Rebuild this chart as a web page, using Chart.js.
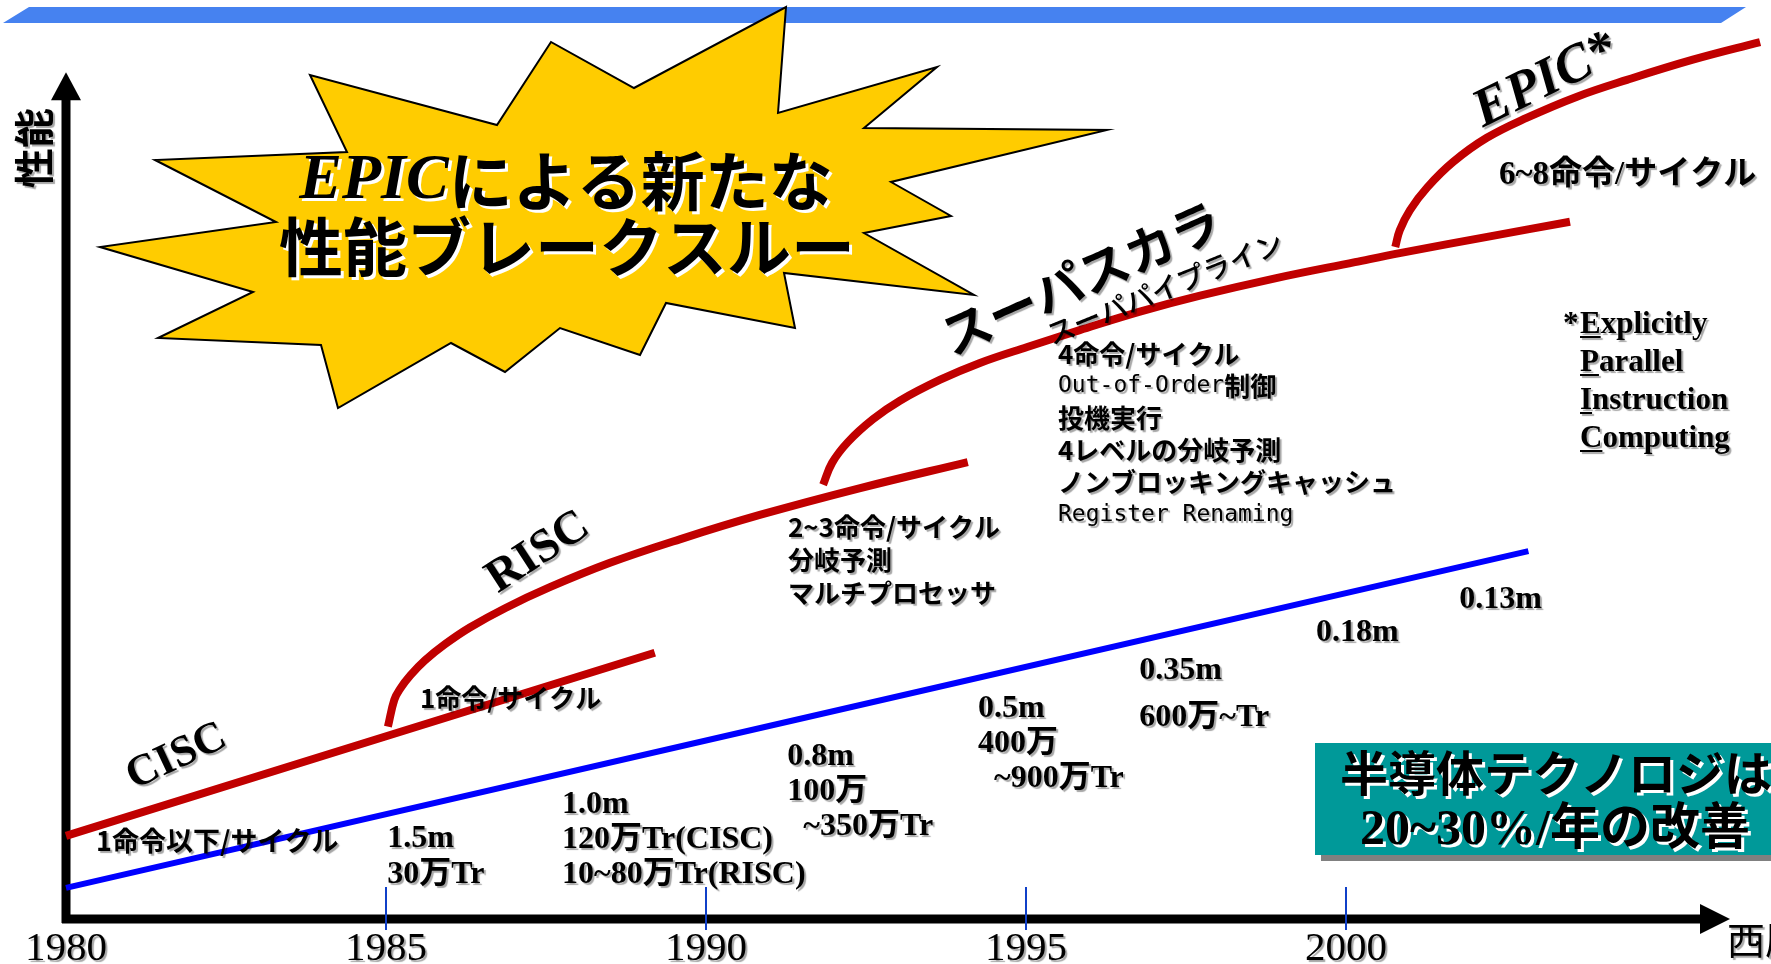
<!DOCTYPE html>
<html>
<head>
<meta charset="utf-8">
<script src="https://cdn.jsdelivr.net/npm/chart.js@4"></script>
<style>
  html, body { margin: 0; padding: 0; background: #fff; overflow: hidden; }
</style>
</head>
<body>
<canvas id="epicChart" width="1771" height="964"></canvas>
<script>
// --- データ (年, 性能: 任意単位) ---
const yearTicks = [1980, 1985, 1990, 1995, 2000];

const ciscYear = [1980.0, 1989.2];
const ciscPerf = [9.9, 31.7];

const riscYear = [1985.03, 1985.13, 1985.22, 1985.38, 1985.61, 1985.92, 1986.31, 1986.86, 1987.56, 1988.5, 1989.59, 1990.84, 1992.41, 1994.09];
const riscPerf = [22.9, 26.1, 27.4, 29.0, 30.8, 32.7, 34.7, 37.0, 39.5, 42.4, 45.2, 48.1, 51.3, 54.4];

const superYear = [1991.83, 1991.97, 1992.22, 1992.61, 1993.03, 1993.66, 1994.28, 1995.02, 1995.84, 1996.78, 1997.72, 1998.91, 2000.14, 2000.86, 2002.27, 2003.5];
const superPerf = [51.7, 54.3, 56.8, 59.5, 61.7, 64.2, 66.2, 68.1, 70.1, 72.3, 74.2, 76.3, 78.2, 79.3, 81.3, 83.0];

const epicYear = [2000.77, 2000.84, 2001.0, 2001.27, 2001.67, 2002.2, 2002.83, 2003.61, 2004.39, 2005.42, 2006.47];
const epicPerf = [80.0, 82.0, 84.4, 87.1, 90.1, 93.0, 95.4, 97.9, 99.9, 102.3, 104.4];

const techYear = [1980.0, 2002.85];
const techPerf = [3.7, 43.8];

// --- テキスト ---
const ciscCpi = ['1命令以下/サイクル'];
const riscCpi = ['1命令/サイクル'];
const riscNotes = ['2~3命令/サイクル', '分岐予測', 'マルチプロセッサ'];
const superNotes = ['4命令/サイクル', 'Out-of-Order|制御', '投機実行', '4レベルの分岐予測', 'ノンブロッキングキャッシュ', 'Register Renaming'];
const epicNotes = ['6~8命令/サイクル'];
const process85 = ['1.5m', '30万Tr'];
const process88 = ['1.0m', '120万Tr(CISC)', '10~80万Tr(RISC)'];
const process91 = ['0.8m', '100万', '  ~350万Tr'];
const process94 = ['0.5m', '400万', '  ~900万Tr'];
const process97 = ['0.35m', '600万~Tr'];
const process99 = ['0.18m'];
const process02 = ['0.13m'];
const epicWords = ['Explicitly', 'Parallel', 'Instruction', 'Computing'];

const RED = '#C00000';
const BLUE = '#0000FF';
const GOTHIC = '"Noto Sans CJK JP"';
const B26 = 'bold 26px ' + GOTHIC;
const MONO = '23px "DejaVu Sans Mono"';
const SERIF_B = 'bold 32px "Liberation Serif", ' + GOTHIC;

// 注記の配置 (データ座標)
const notes = [
  { at: [1980.47, 9.3], gap: 0, font: 'bold 27px ' + GOTHIC, lines: ciscCpi },
  { at: [1985.53, 26.3], gap: 0, font: B26, lines: riscCpi },
  { at: [1991.28, 46.7], gap: 33, font: B26, lines: riscNotes },
  { at: [1995.5, 67.3], gap: 32.2, font: B26, lines: superNotes, mono: [1, 5] },
  { at: [2002.39, 88.5], gap: 0, font: 'bold 33px "Liberation Serif", ' + GOTHIC, lines: epicNotes },
  { at: [1985.02, 9.5], gap: 36, font: SERIF_B, lines: process85 },
  { at: [1987.75, 13.6], gap: 35, font: SERIF_B, lines: process88 },
  { at: [1991.27, 19.3], gap: 35, font: SERIF_B, lines: process91 },
  { at: [1994.25, 25.0], gap: 35, font: SERIF_B, lines: process94 },
  { at: [1996.77, 29.5], gap: 47, font: SERIF_B, lines: process97 },
  { at: [1999.53, 34.05], gap: 0, font: SERIF_B, lines: process99 },
  { at: [2001.77, 38.0], gap: 0, font: SERIF_B, lines: process02 }
];

const tilted = [
  { text: 'CISC', at: [1981.73, 19.3], angle: -25, font: 'bold 44px "Liberation Serif"' },
  { text: 'RISC', at: [1987.38, 43.6], angle: -33, font: 'bold 47px "Liberation Serif"' },
  { text: 'スーパスカラ', at: [1995.86, 76.3], angle: -24, font: 'bold 50px ' + GOTHIC },
  { text: 'スーパパイプライン', at: [1997.17, 75.1], angle: -22, font: '500 28px ' + GOTHIC },
  { text: 'EPIC*', at: [2003.12, 99.7], angle: -26, font: 'italic bold 54px "Liberation Serif"' }
];

// 爆発形 (ピクセル座標, 装飾)
const starPts = [[786,7],[778,113],[937,67],[864,128],[1107,130],[891,182],[951,216],[864,233],[974,295],[784,273],[795,328],[666,303],[640,355],[560,328],[505,372],[451,343],[338,408],[321,345],[158,338],[253,292],[100,247],[276,222],[155,160],[347,152],[310,75],[497,125],[551,42],[634,88]];

function pts(xs, ys) {
  return xs.map((v, i) => ({ x: v, y: ys[i] }));
}

function line(xs, ys, color, width) {
  return {
    data: pts(xs, ys),
    borderColor: color,
    borderWidth: width,
    borderCapStyle: 'butt',
    tension: 0.4,
    pointRadius: 0,
    fill: false,
    clip: false
  };
}

function shadowed(ctx, on) {
  ctx.shadowColor = on ? 'rgba(0,0,0,0.35)' : 'transparent';
  ctx.shadowOffsetX = on ? 2 : 0;
  ctx.shadowOffsetY = on ? 2 : 0;
  ctx.shadowBlur = on ? 1 : 0;
}

function outlined(ctx, text, x, y) {
  ctx.fillStyle = '#fff';
  ctx.fillText(text, x + 3, y + 3);
  ctx.fillStyle = '#000';
  ctx.fillText(text, x, y);
}

const backdrop = {
  id: 'backdrop',
  beforeDatasetsDraw(chart) {
    const { ctx, scales: { x, y } } = chart;
    ctx.save();

    // 上部の帯
    ctx.fillStyle = '#4682F0';
    ctx.beginPath();
    ctx.moveTo(29, 7); ctx.lineTo(1746, 7); ctx.lineTo(1721, 23); ctx.lineTo(3, 23);
    ctx.closePath();
    ctx.fill();

    // 爆発形
    ctx.beginPath();
    starPts.forEach((p, i) => i ? ctx.lineTo(p[0], p[1]) : ctx.moveTo(p[0], p[1]));
    ctx.closePath();
    ctx.fillStyle = '#FFCC00';
    ctx.fill();
    ctx.lineWidth = 2;
    ctx.strokeStyle = '#000';
    ctx.stroke();

    // タイトル
    ctx.textBaseline = 'middle';
    ctx.textAlign = 'left';
    const fEpic = 'italic bold 64px "Liberation Serif"';
    const fJp = 'bold 64px ' + GOTHIC;
    ctx.font = fEpic;
    const wE = ctx.measureText('EPIC').width;
    ctx.font = fJp;
    const wJ = ctx.measureText('による新たな').width;
    const sx = 566 - (wE + wJ) / 2;
    ctx.font = fEpic;
    outlined(ctx, 'EPIC', sx, 181);
    ctx.font = fJp;
    outlined(ctx, 'による新たな', sx + wE, 181);
    ctx.textAlign = 'center';
    outlined(ctx, '性能ブレークスルー', 567, 247);

    // 軸
    const x0 = x.getPixelForValue(1980);
    const y0 = y.getPixelForValue(0);
    const xEnd = x.getPixelForValue(2006);
    const yEnd = y.getPixelForValue(100.8);
    ctx.fillStyle = '#000';
    ctx.strokeStyle = '#000';
    ctx.lineWidth = 9;
    ctx.beginPath();
    ctx.moveTo(x0, y0 + 4); ctx.lineTo(x0, yEnd + 26);
    ctx.moveTo(x0 - 4, y0); ctx.lineTo(xEnd - 28, y0);
    ctx.stroke();
    ctx.beginPath();
    ctx.moveTo(x0, yEnd); ctx.lineTo(x0 + 15, yEnd + 28); ctx.lineTo(x0 - 15, yEnd + 28);
    ctx.closePath();
    ctx.fill();
    ctx.beginPath();
    ctx.moveTo(xEnd, y0); ctx.lineTo(xEnd - 30, y0 - 15); ctx.lineTo(xEnd - 30, y0 + 15);
    ctx.closePath();
    ctx.fill();

    // 目盛と年
    ctx.strokeStyle = '#1040C8';
    ctx.lineWidth = 2;
    yearTicks.forEach(t => {
      if (t === 1980) return;
      const px = x.getPixelForValue(t);
      ctx.beginPath();
      ctx.moveTo(px, y0 - 32); ctx.lineTo(px, y0 + 11);
      ctx.stroke();
    });
    shadowed(ctx, true);
    ctx.fillStyle = '#000';
    ctx.font = '41px "Liberation Serif"';
    ctx.textAlign = 'center';
    ctx.textBaseline = 'alphabetic';
    yearTicks.forEach(t => ctx.fillText(String(t), x.getPixelForValue(t), 960));
    ctx.textAlign = 'left';
    ctx.font = '38px ' + GOTHIC;
    ctx.textBaseline = 'middle';
    ctx.fillText('西暦', xEnd - 3, 940);

    // 縦軸ラベル
    ctx.save();
    ctx.translate(34, 148);
    ctx.rotate(-Math.PI / 2);
    ctx.textAlign = 'center';
    ctx.font = 'bold 40px ' + GOTHIC;
    ctx.fillText('性能', 0, 0);
    ctx.restore();

    ctx.restore();
  }
};

const overlay = {
  id: 'overlay',
  afterDatasetsDraw(chart) {
    const { ctx, scales: { x, y } } = chart;
    ctx.save();
    ctx.fillStyle = '#000';
    ctx.textBaseline = 'middle';
    ctx.textAlign = 'left';
    shadowed(ctx, true);

    notes.forEach(n => {
      const px = x.getPixelForValue(n.at[0]);
      const py = y.getPixelForValue(n.at[1]);
      n.lines.forEach((s, i) => {
        const ly = py + i * n.gap;
        if (n.mono && n.mono.includes(i)) {
          const parts = s.split('|');
          ctx.font = MONO;
          ctx.fillText(parts[0], px, ly);
          if (parts[1]) {
            const w = ctx.measureText(parts[0]).width;
            ctx.font = n.font;
            ctx.fillText(parts[1], px + w, ly);
          }
        } else {
          ctx.font = n.font;
          ctx.fillText(s, px, ly);
        }
      });
    });

    tilted.forEach(t => {
      ctx.save();
      ctx.translate(x.getPixelForValue(t.at[0]), y.getPixelForValue(t.at[1]));
      ctx.rotate(t.angle * Math.PI / 180);
      ctx.font = t.font;
      ctx.textAlign = 'center';
      ctx.fillText(t.text, 0, 0);
      ctx.restore();
    });

    // EPIC の説明
    ctx.font = 'bold 31px "Liberation Serif"';
    ctx.textBaseline = 'alphabetic';
    ctx.fillText('*', 1563, 333);
    epicWords.forEach((w, i) => {
      const by = 333 + i * 38;
      ctx.fillText(w, 1580, by);
      const cw = ctx.measureText(w[0]).width;
      ctx.fillRect(1580, by + 3, cw, 2);
    });

    // 半導体テクノロジの箱
    shadowed(ctx, false);
    ctx.fillStyle = '#808080';
    ctx.fillRect(1321, 749, 480, 112);
    ctx.fillStyle = '#009999';
    ctx.fillRect(1315, 743, 480, 112);
    ctx.textAlign = 'center';
    ctx.textBaseline = 'middle';
    ctx.font = 'bold 48px ' + GOTHIC;
    outlined(ctx, '半導体テクノロジは', 1556, 773);
    ctx.font = 'bold 50px "Liberation Serif", ' + GOTHIC;
    outlined(ctx, '20~30%/年の改善', 1555, 831);

    ctx.restore();
  }
};

const canvas = document.getElementById('epicChart');
new Chart(canvas.getContext('2d'), {
  type: 'line',
  data: {
    datasets: [
      line(techYear, techPerf, BLUE, 6),
      line(ciscYear, ciscPerf, RED, 8),
      line(riscYear, riscPerf, RED, 8),
      line(superYear, superPerf, RED, 8),
      line(epicYear, epicPerf, RED, 8)
    ]
  },
  options: {
    responsive: false,
    animation: false,
    devicePixelRatio: 1,
    layout: { padding: { left: 66, right: 9, top: 37, bottom: 45 } },
    scales: {
      x: { type: 'linear', min: 1980, max: 2006.5, display: false },
      y: { type: 'linear', min: 0, max: 105, display: false }
    },
    plugins: {
      legend: { display: false },
      tooltip: { enabled: false }
    }
  },
  plugins: [backdrop, overlay]
});
</script>
</body>
</html>
